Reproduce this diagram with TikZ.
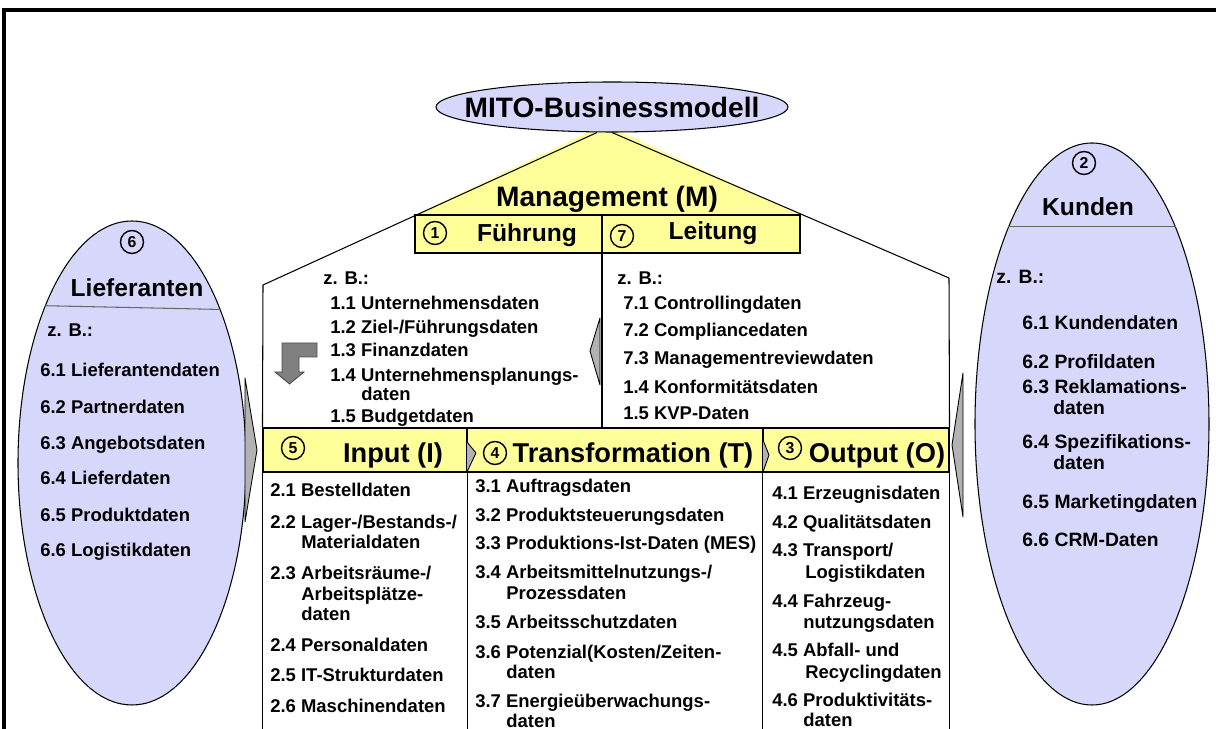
\documentclass[tikz,border=0pt]{standalone}
\usepackage{fontspec}
\setmainfont{Liberation Sans}
\usetikzlibrary{calc,shapes.geometric}
\definecolor{MitoYellow}{HTML}{FFFF99}
\definecolor{MitoLav}{HTML}{D7D7FB}
\definecolor{MitoGray}{HTML}{B2B2B2}
\definecolor{MitoDarkGray}{HTML}{808080}
\newcommand{\MitoTitle}{\fontsize{16}{18}\selectfont\bfseries}
\newcommand{\MitoHead}{\fontsize{15.5}{17}\selectfont\bfseries}
\newcommand{\MitoSub}{\fontsize{14}{16}\selectfont\bfseries}
\newcommand{\MitoItem}{\fontsize{10.5}{11.6}\selectfont\bfseries}
\newcommand{\MitoItemL}{\fontsize{11}{12.2}\selectfont\bfseries}
\newcommand{\MitoNum}{\fontsize{9}{10}\selectfont\bfseries}
\tikzset{
  thinline/.style={draw=black, line width=0.6pt},
  itemtext/.style={
    anchor=base west,
    yshift=-0.13cm,
    inner sep=0pt,
    text=black,
    font=\MitoItem
  },
  itemtextl/.style={itemtext, font=\MitoItemL},
  headtext/.style={
    anchor=base,
    yshift=-0.2cm,
    inner sep=0pt,
    text=black,
    font=\MitoHead
  },
  subtext/.style={
    anchor=base,
    yshift=-0.18cm,
    inner sep=0pt,
    text=black,
    font=\MitoSub
  },
  numcirc/.style={
    circle,
    draw=black,
    line width=0.8pt,
    minimum size=0.46cm,
    inner sep=0pt,
    font=\MitoNum
  },
  yellowbox/.style={
    rectangle,
    draw=black,
    fill=MitoYellow,
    line width=0.6pt,
    inner sep=0pt
  },
  partnerell/.style={
    ellipse,
    draw=black,
    fill=MitoLav,
    line width=0.6pt,
    inner sep=0pt
  },
  grayarrow/.style={fill=MitoGray, draw=black, line width=0.5pt, line join=round},
  bentarrow/.style={fill=MitoDarkGray, draw=black!70, line width=0.5pt}
}

\begin{document}
\begin{tikzpicture}[x=1cm,y=1cm]
\path[use as bounding box] (0,0) rectangle (24.32,14.58);

% frame
\draw[line width=1.8pt] (0.08,0) -- (0.08,14.38) -- (24.32,14.38);

% management roof
\fill[MitoYellow] (11.86,11.98) -- (12.34,11.98) -- (16.00,10.28) -- (8.30,10.28) -- cycle;
\coordinate (mgl) at (5.26,8.88);
\coordinate (mgr) at (18.98,9.02);
\coordinate (mdiv) at (12.04,10.28);

\node[partnerell, minimum width=7.04cm, minimum height=1.00cm] (title) at (12.24,12.44) {};
\node[inner sep=0pt, font=\MitoTitle] (titletext) at (title.center) {MITO-Businessmodell};

\draw[thinline] ([xshift=-0.3cm]title.south) -- (mgl);
\draw[thinline] (title.south) -- (mgr);

\node[headtext, font=\MitoTitle] (mgmt) at (12.14,10.64) {Management (M)};

\node[yellowbox, minimum width=7.70cm, minimum height=0.76cm] (fbox) at (12.15,9.90) {};
\node[numcirc] (c1) at (8.70,9.92) {1};
\node[subtext] (fuehr) at (10.54,9.92) {Führung};
\node[numcirc] (c7) at (12.44,9.86) {7};
\node[subtext] (leit) at (14.26,9.96) {Leitung};

% input / transformation / output bar
\node[yellowbox, minimum width=4.08cm, minimum height=0.88cm] (inhead) at (7.30,5.58) {};
\node[yellowbox, minimum width=5.92cm, minimum height=0.88cm] (trhead) at (12.30,5.58) {};
\node[yellowbox, minimum width=3.72cm, minimum height=0.88cm] (outhead) at (17.12,5.58) {};

\draw[thinline] (mdiv) -- (mdiv |- inhead.north);
\draw[thinline] (mgl) -- (inhead.north west);
\draw[thinline] (mgr) -- (outhead.north east);
\draw[thinline] (inhead.south west) -- ++(0,-5.14);
\draw[thinline] (inhead.south east) -- ++(0,-5.14);
\draw[thinline] (outhead.south west) -- ++(0,-5.14);
\draw[thinline] (outhead.south east) -- ++(0,-5.14);

\draw[grayarrow] (9.34,5.74) -- (9.52,5.52) -- (9.34,5.14);
\draw[grayarrow] (15.26,5.78) -- (15.38,5.48) -- (15.26,5.14);

\node[numcirc] (c5) at (5.86,5.62) {5};
\node[headtext] (inp) at (7.86,5.52) {Input (I)};
\node[numcirc] (c4) at (9.90,5.52) {4};
\node[headtext] (trf) at (12.66,5.52) {Transformation (T)};
\node[numcirc] (c3) at (15.80,5.62) {3};
\node[headtext] (outp) at (17.54,5.52) {Output (O)};

% management lists
\node[itemtext] (mzbl) at (6.46,9.02) {z. B.:};
\node[itemtext] (f11) at (6.60,8.52) {1.1 Unternehmensdaten};
\node[itemtext] (f12) at (6.60,8.04) {1.2 Ziel-/Führungsdaten};
\node[itemtext] (f13) at (6.60,7.58) {1.3 Finanzdaten};
\node[itemtext] (f14) at (6.60,7.08) {1.4 Unternehmensplanungs-};
\node[itemtext] (f14b) at (7.22,6.70) {daten};
\node[itemtext] (f15) at (6.60,6.26) {1.5 Budgetdaten};

\node[itemtext] (mzbr) at (12.34,9.02) {z. B.:};
\node[itemtext] (l71) at (12.46,8.52) {7.1 Controllingdaten};
\node[itemtext] (l72) at (12.46,7.98) {7.2 Compliancedaten};
\node[itemtext] (l73) at (12.46,7.42) {7.3 Managementreviewdaten};
\node[itemtext] (l14) at (12.46,6.84) {1.4 Konformitätsdaten};
\node[itemtext] (l15) at (12.46,6.32) {1.5 KVP-Daten};

\draw[bentarrow] (5.64,7.72) -- (6.34,7.72) -- (6.34,7.44) -- (5.98,7.44) -- (5.98,7.14)
  -- (6.08,7.14) -- (5.79,6.90) -- (5.50,7.14) -- (5.64,7.14) -- cycle;
\draw[grayarrow] (12.00,8.22) -- (11.80,7.56) -- (12.00,6.88) -- cycle;

% input column
\node[itemtext] (i21) at (5.40,4.78) {2.1 Bestelldaten};
\node[itemtext] (i22) at (5.40,4.14) {2.2 Lager-/Bestands-/};
\node[itemtext] (i22b) at (6.02,3.74) {Materialdaten};
\node[itemtext] (i23) at (5.40,3.12) {2.3 Arbeitsräume-/};
\node[itemtext] (i23b) at (6.02,2.70) {Arbeitsplätze-};
\node[itemtext] (i23c) at (6.02,2.30) {daten};
\node[itemtext] (i24) at (5.40,1.68) {2.4 Personaldaten};
\node[itemtext] (i25) at (5.40,1.08) {2.5 IT-Strukturdaten};
\node[itemtext] (i26) at (5.40,0.46) {2.6 Maschinendaten};

% transformation column
\node[itemtext] (t31) at (9.50,4.86) {3.1 Auftragsdaten};
\node[itemtext] (t32) at (9.50,4.28) {3.2 Produktsteuerungsdaten};
\node[itemtext] (t33) at (9.50,3.72) {3.3 Produktions-Ist-Daten (MES)};
\node[itemtext] (t34) at (9.50,3.14) {3.4 Arbeitsmittelnutzungs-/};
\node[itemtext] (t34b) at (10.12,2.72) {Prozessdaten};
\node[itemtext] (t35) at (9.50,2.14) {3.5 Arbeitsschutzdaten};
\node[itemtext] (t36) at (9.50,1.54) {3.6 Potenzial(Kosten/Zeiten-};
\node[itemtext] (t36b) at (10.12,1.14) {daten};
\node[itemtext] (t37) at (9.50,0.56) {3.7 Energieüberwachungs-};
\node[itemtext] (t37b) at (10.12,0.16) {daten};

% output column
\node[itemtext] (o41) at (15.44,4.72) {4.1 Erzeugnisdaten};
\node[itemtext] (o42) at (15.44,4.14) {4.2 Qualitätsdaten};
\node[itemtext] (o43) at (15.44,3.58) {4.3 Transport/};
\node[itemtext] (o43b) at (16.10,3.14) {Logistikdaten};
\node[itemtext] (o44) at (15.44,2.56) {4.4 Fahrzeug-};
\node[itemtext] (o44b) at (16.06,2.14) {nutzungsdaten};
\node[itemtext] (o45) at (15.44,1.58) {4.5 Abfall- und};
\node[itemtext] (o45b) at (16.10,1.14) {Recyclingdaten};
\node[itemtext] (o46) at (15.44,0.58) {4.6 Produktivitäts-};
\node[itemtext] (o46b) at (16.06,0.18) {daten};

% suppliers
\node[partnerell, minimum width=4.56cm, minimum height=9.68cm] (lief) at (2.64,5.32) {};
\draw[line width=0.6pt, draw=black!60] (lief.119.5) -- (lief.60.5);
\node[numcirc] (c6) at (2.64,9.74) {6};
\node[subtext] (lieft) at (2.74,8.82) {Lieferanten};
\node[itemtext] (lzb) at (0.94,7.98) {z. B.:};
\node[itemtext] (s61) at (0.80,7.18) {6.1 Lieferantendaten};
\node[itemtext] (s62) at (0.80,6.44) {6.2 Partnerdaten};
\node[itemtext] (s63) at (0.80,5.72) {6.3 Angebotsdaten};
\node[itemtext] (s64) at (0.80,5.02) {6.4 Lieferdaten};
\node[itemtext] (s65) at (0.80,4.28) {6.5 Produktdaten};
\node[itemtext] (s66) at (0.80,3.58) {6.6 Logistikdaten};
\draw[grayarrow] (4.90,7.02) -- (5.14,5.58) -- (4.90,4.14) -- cycle;

% customers
\node[partnerell, minimum width=4.68cm, minimum height=11.24cm] (kund) at (21.84,6.10) {};
\draw[line width=0.6pt, draw=black!60] (kund.113) -- (kund.67);
\node[numcirc] (c2) at (21.68,11.32) {2};
\node[subtext] (kundt) at (21.76,10.44) {Kunden};
\node[itemtextl] (kzb) at (19.92,9.04) {z. B.:};
\node[itemtextl] (k61) at (20.44,8.12) {6.1 Kundendaten};
\node[itemtextl] (k62) at (20.44,7.34) {6.2 Profildaten};
\node[itemtextl] (k63) at (20.44,6.84) {6.3 Reklamations-};
\node[itemtextl] (k63b) at (21.06,6.42) {daten};
\node[itemtextl] (k64) at (20.44,5.74) {6.4 Spezifikations-};
\node[itemtextl] (k64b) at (21.06,5.32) {daten};
\node[itemtextl] (k65) at (20.44,4.54) {6.5 Marketingdaten};
\node[itemtextl] (k66) at (20.44,3.78) {6.6 CRM-Daten};
\draw[grayarrow] (19.26,7.12) -- (19.04,5.68) -- (19.26,4.24) -- cycle;

\end{tikzpicture}
\end{document}
